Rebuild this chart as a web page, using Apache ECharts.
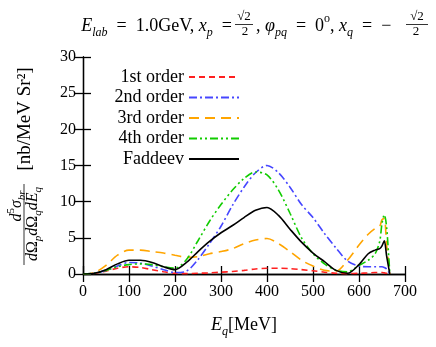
<!DOCTYPE html>
<html>
<head>
<meta charset="utf-8">
<script src="https://cdn.jsdelivr.net/npm/echarts@6/dist/echarts.min.js"></script>
<style>
  html, body { margin: 0; padding: 0; background: #fff; }
  #chart { width: 436px; height: 347px; }
</style>
</head>
<body>
<div id="chart"></div>
<script>
// energies E_q [MeV], shared by all curves
var energies = [0, 25, 50, 75, 100, 125, 150, 175, 200, 225, 250, 275, 300, 325, 350, 375, 400,
  425, 450, 475, 500, 525, 550, 575, 600, 620, 635, 645, 650, 655, 660, 667];

var first = [0, 0.1, 0.4, 0.8, 1.0, 0.9, 0.6, 0.3, 0.1, 0.05, 0.1, 0.15, 0.25, 0.35, 0.5, 0.7, 0.8,
  0.8, 0.75, 0.6, 0.45, 0.25, 0.1, 0.05, 0.1, 0.15, 0.2, 0.2, 0.2, 0.15, 0.1, 0];
var second = [0, 0.1, 0.5, 1.1, 1.6, 1.5, 1.1, 0.6, 0.2, 0.4, 2.0, 4.2, 6.6, 9.5, 12.0, 14.0, 15.0,
  14.0, 12.0, 9.6, 7.8, 5.6, 3.6, 1.8, 1.1, 1.0, 1.0, 1.0, 1.0, 0.9, 0.7, 0];
var third = [0, 0.2, 1.2, 2.6, 3.3, 3.3, 3.1, 2.9, 2.6, 2.3, 2.4, 2.8, 3.1, 3.5, 4.2, 4.7, 4.9,
  4.2, 3.1, 1.9, 1.1, 0.5, 0.4, 1.9, 4.0, 5.5, 6.3, 6.6, 7.5, 7.7, 4.0, 0];
var fourth = [0, 0.1, 0.5, 1.0, 1.3, 1.4, 1.3, 1.0, 0.8, 2.0, 4.6, 7.3, 9.6, 11.6, 13.2, 14.1, 13.7,
  11.6, 8.4, 5.0, 2.8, 1.4, 0.5, 0.3, 1.2, 1.9, 2.8, 4.5, 7.0, 8.2, 6.5, 0];
var faddeev = [0, 0.1, 0.6, 1.4, 1.9, 1.9, 1.6, 1.0, 0.6, 1.6, 3.1, 4.5, 5.7, 6.7, 7.8, 8.8, 9.2,
  8.1, 6.2, 4.4, 2.9, 1.7, 0.5, 0.1, 1.3, 2.8, 3.3, 3.5, 3.9, 4.6, 2.5, 0];

var seriesNames = ['1st order', '2nd order', '3rd order', '4th order', 'Faddeev'];
var xTicks = [0, 700, 100];
var yTicks = [0, 30, 5];

var serif = 'Liberation Serif';

function pairs(vals) {
  return energies.map(function (e, i) { return [e, vals[i]]; });
}

function makeLine(name, vals, color, dash) {
  return {
    name: name,
    type: 'line',
    data: pairs(vals),
    smooth: 0.3,
    symbol: 'none',
    showSymbol: false,
    lineStyle: { color: color, width: 1.6, type: dash },
    itemStyle: { color: color },
    z: 3
  };
}

var chart = echarts.init(document.getElementById('chart'));

var rich = {
  n: { fontFamily: serif, fontSize: 18, color: '#000', lineHeight: 26 },
  i: { fontFamily: serif, fontSize: 18, fontStyle: 'italic', color: '#000', lineHeight: 26 },
  s: { fontFamily: serif, fontSize: 12, fontStyle: 'italic', color: '#000', lineHeight: 13, verticalAlign: 'bottom' },
  u: { fontFamily: serif, fontSize: 12, color: '#000', lineHeight: 13, verticalAlign: 'top' }
};

// smaller set for the fraction in the y label
var richSm = {
  n: { fontFamily: serif, fontSize: 16, color: '#000', lineHeight: 22 },
  i: { fontFamily: serif, fontSize: 16, fontStyle: 'italic', color: '#000', lineHeight: 22 },
  s: { fontFamily: serif, fontSize: 11, fontStyle: 'italic', color: '#000', lineHeight: 11, verticalAlign: 'bottom' },
  u: { fontFamily: serif, fontSize: 11, color: '#000', lineHeight: 11, verticalAlign: 'top' }
};

var axisCommon = {
  type: 'value',
  axisLine: { show: true, lineStyle: { color: '#000', width: 1.3 } },
  axisTick: { show: true, inside: true, length: 8, lineStyle: { color: '#000', width: 1.3 } },
  splitLine: { show: false }
};

var option = {
  animation: false,
  backgroundColor: '#fff',
  grid: { left: 83, right: 31, top: 57, bottom: 73 },
  legend: {
    right: 196,
    top: 68,
    padding: 0,
    orient: 'vertical',
    align: 'right',
    itemWidth: 50,
    itemHeight: 14,
    itemGap: 2.5,
    itemStyle: { opacity: 0 },
    textStyle: { fontFamily: serif, fontSize: 18, color: '#000' },
    data: seriesNames
  },
  xAxis: [
    Object.assign({}, axisCommon, {
      min: xTicks[0], max: xTicks[1], interval: xTicks[2],
      axisLabel: { fontFamily: serif, fontSize: 16, color: '#000', margin: 10 },
      name: '{i|E}{s|q}{n|[MeV]}',
      nameLocation: 'middle',
      nameGap: 38,
      nameTextStyle: { rich: rich }
    }),
    Object.assign({}, axisCommon, {
      position: 'top',
      min: xTicks[0], max: xTicks[1], interval: xTicks[2],
      axisLabel: { show: false }
    })
  ],
  yAxis: [
    Object.assign({}, axisCommon, {
      min: yTicks[0], max: yTicks[1], interval: yTicks[2],
      axisLabel: { fontFamily: serif, fontSize: 16, color: '#000', margin: 7 }
    }),
    Object.assign({}, axisCommon, {
      position: 'right',
      min: yTicks[0], max: yTicks[1], interval: yTicks[2],
      axisLabel: { show: false }
    })
  ],
  graphic: [
    // title
    { type: 'text', x: 232, y: 26, style: {
      text: '{i|E}{s|lab}{n|  =  1.0GeV, }{i|x}{s|p}{n|  =}', rich: rich,
      align: 'right', verticalAlign: 'middle' } },
    { type: 'text', x: 244, y: 17, style: { text: '√2', font: '13px ' + serif, fill: '#000', align: 'center', verticalAlign: 'middle' } },
    { type: 'line', shape: { x1: 235, y1: 24.5, x2: 253, y2: 24.5 }, style: { stroke: '#000', lineWidth: 0.8 } },
    { type: 'text', x: 245, y: 32, style: { text: '2', font: '13px ' + serif, fill: '#000', align: 'center', verticalAlign: 'middle' } },
    { type: 'text', x: 256, y: 26, style: {
      text: '{n|, }{i|φ}{s|pq}{n|  =  0}{u|o}{n|, }{i|x}{s|q}{n|  =  −}', rich: rich,
      align: 'left', verticalAlign: 'middle' } },
    { type: 'text', x: 417, y: 17, style: { text: '√2', font: '13px ' + serif, fill: '#000', align: 'center', verticalAlign: 'middle' } },
    { type: 'line', shape: { x1: 406, y1: 24.5, x2: 428, y2: 24.5 }, style: { stroke: '#000', lineWidth: 0.8 } },
    { type: 'text', x: 416, y: 32, style: { text: '2', font: '13px ' + serif, fill: '#000', align: 'center', verticalAlign: 'middle' } },
    // y axis label (rotated)
    { type: 'text', x: 25, y: 119, rotation: Math.PI / 2, style: {
      text: '[nb/MeV Sr²]', font: '19px ' + serif, fill: '#000', align: 'center', verticalAlign: 'middle' } },
    { type: 'text', x: 17, y: 206, rotation: Math.PI / 2, style: {
      text: '{i|d}{u|5}{i|σ}{s|br}', rich: richSm, align: 'center', verticalAlign: 'middle' } },
    { type: 'line', shape: { x1: 24, y1: 184, x2: 24, y2: 265 }, style: { stroke: '#000', lineWidth: 0.8 } },
    { type: 'text', x: 33, y: 224, rotation: Math.PI / 2, style: {
      text: '{i|d}{n|Ω}{s|p}{i|d}{n|Ω}{s|q}{i|dE}{s|q}', rich: richSm, align: 'center', verticalAlign: 'middle' } }
  ],
  series: [
    makeLine(seriesNames[0], first, '#ff2020', [6, 4]),
    makeLine(seriesNames[1], second, '#4646ff', [8, 3, 2, 3]),
    makeLine(seriesNames[2], third, '#ffa500', [10, 6]),
    makeLine(seriesNames[3], fourth, '#11cc00', [8, 3, 2, 3, 2, 3]),
    makeLine(seriesNames[4], faddeev, '#000000', 'solid')
  ]
};

chart.setOption(option);
</script>
</body>
</html>
